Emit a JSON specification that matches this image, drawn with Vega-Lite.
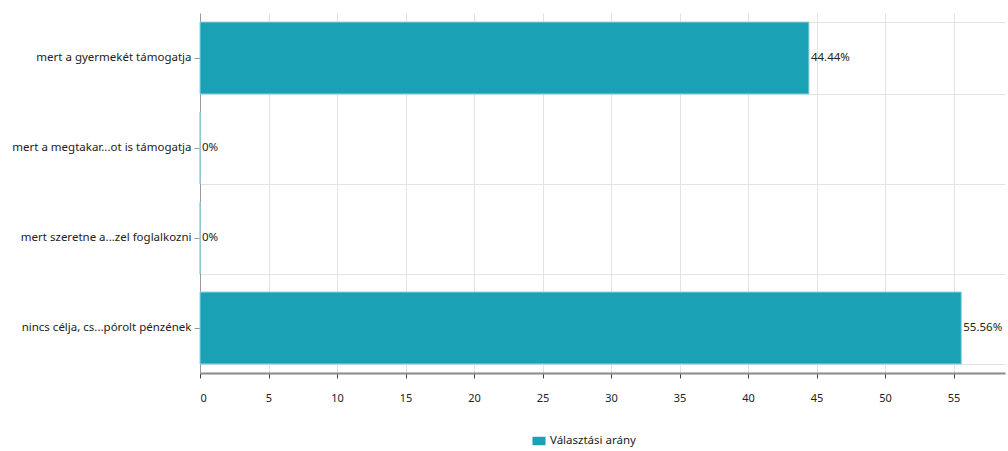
{
  "$schema": "https://vega.github.io/schema/vega-lite/v6.json",
  "autosize": "none",
  "width": 805,
  "height": 360,
  "padding": {"left": 200, "top": 13, "right": 3, "bottom": 78},
  "background": "white",
  "config": {
    "view": {"stroke": null},
    "font": "Noto Sans",
    "axis": {"labelFont": "Noto Sans", "labelColor": "#222", "labelFontSize": 11.5, "gridColor": "#e3e3e3", "gridWidth": 1}
  },
  "data": {
    "values": [
      {"option": "mert a gyermekét támogatja", "value": 44.44, "label": "44.44%"},
      {"option": "mert a megtakar...ot is támogatja", "value": 0, "label": "0%"},
      {"option": "mert szeretne a...zel foglalkozni", "value": 0, "label": "0%"},
      {"option": "nincs célja, cs...pórolt pénzének", "value": 55.56, "label": "55.56%"}
    ]
  },
  "encoding": {
    "y": {
      "field": "option", "type": "nominal", "sort": null,
      "scale": {"paddingInner": 0.2, "paddingOuter": 0.1}
    },
    "x": {
      "field": "value", "type": "quantitative",
      "scale": {"domain": [0, 58.75], "nice": false},
      "axis": {"values": [0,5,10,15,20,25,30,35,40,45,50,55], "title": null, "labelPadding": 14, "tickColor": "#444", "tickSize": 5, "domainColor": "#8a8a8a", "domainWidth": 2, "grid": true, "labelFontSize": 11}
    }
  },
  "layer": [
    {
      "mark": {"type": "bar", "stroke": "#8fd3dd", "strokeWidth": 1},
      "encoding": {
        "color": {"datum": "Választási arány", "scale": {"range": ["#1aa1b5"]},
          "legend": {"title": null, "orient": "none", "legendX": 332, "legendY": 421, "labelFontSize": 11.5, "labelColor": "#222", "symbolType": "M-1,-0.65H1V0.65H-1Z", "symbolSize": 170, "symbolStrokeWidth": 0}},
        "y": {"field": "option", "type": "nominal", "sort": null,
          "axis": {"title": null, "grid": false, "domainColor": "#999", "tickColor": "#999", "tickSize": 6, "labelPadding": 3}}
      }
    },
    {
      "mark": {"type": "text", "align": "left", "baseline": "middle", "dx": 2, "fontSize": 11.5, "color": "#222"},
      "encoding": {
        "text": {"field": "label"},
        "y": {"field": "option", "type": "nominal", "sort": null,
          "axis": {"title": null, "orient": "right", "grid": true, "tickBand": "extent", "labels": false, "ticks": false, "domain": false}}
      }
    }
  ],
  "resolve": {"axis": {"y": "independent"}}
}
